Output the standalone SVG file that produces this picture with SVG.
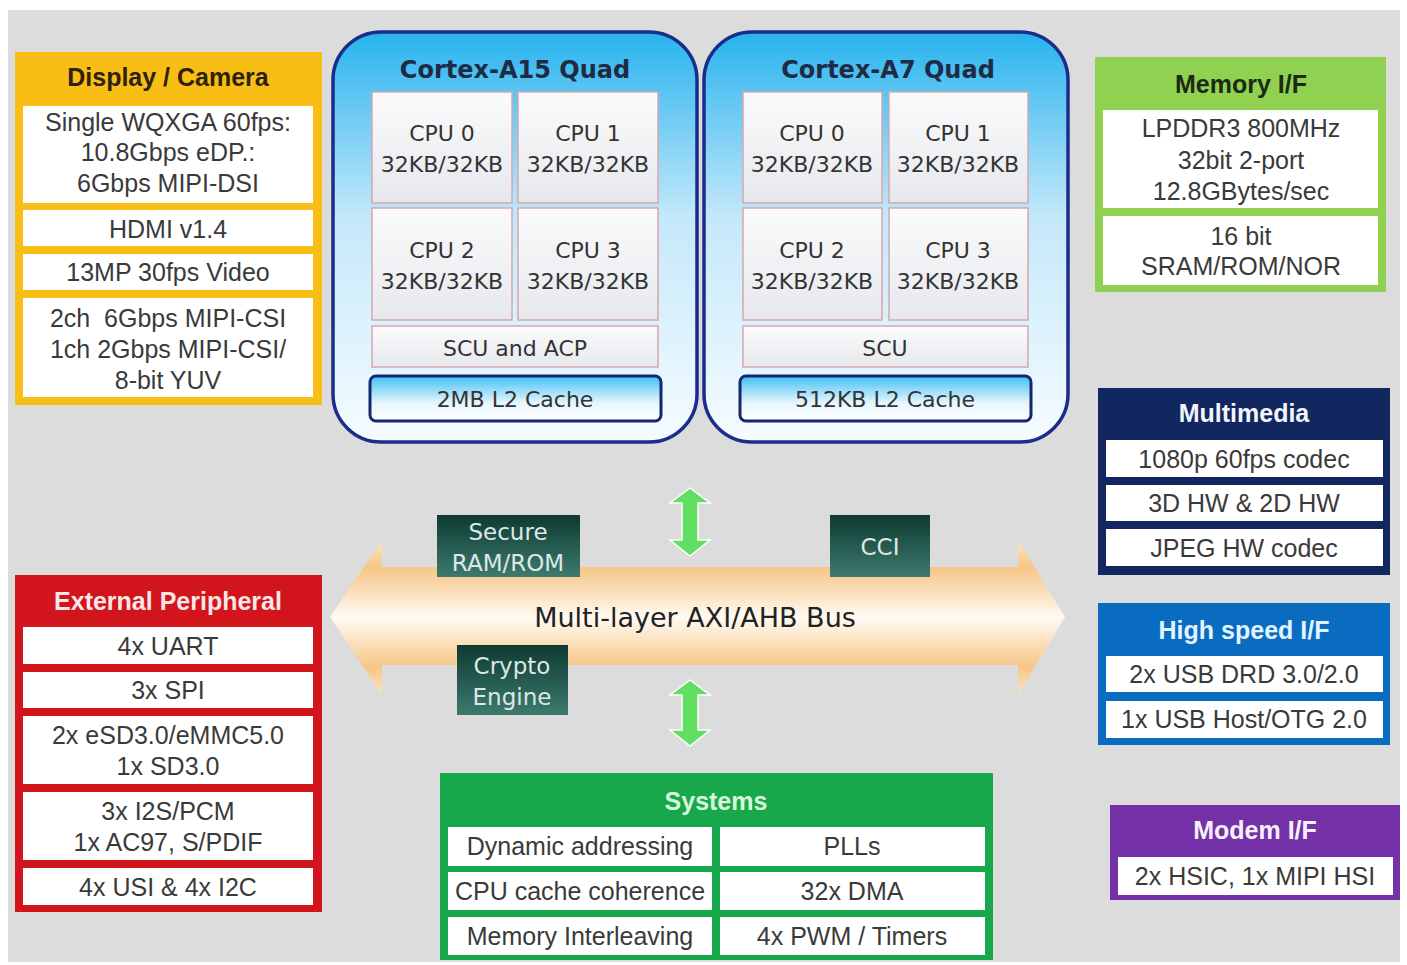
<svg xmlns="http://www.w3.org/2000/svg" width="1407" height="965" viewBox="0 0 1407 965">
<defs>
<linearGradient id="coreG" x1="0" y1="0" x2="0" y2="1">
<stop offset="0" stop-color="#27b3ee"/>
<stop offset="0.45" stop-color="#c4e8fa"/>
<stop offset="1" stop-color="#f6fcff"/>
</linearGradient>
<linearGradient id="cellG" x1="0" y1="0" x2="0" y2="1">
<stop offset="0" stop-color="#fbfbfc"/>
<stop offset="1" stop-color="#e6e8ec"/>
</linearGradient>
<linearGradient id="l2G" x1="0" y1="0" x2="0" y2="1">
<stop offset="0" stop-color="#3fbff4"/>
<stop offset="0.6" stop-color="#e6f6fd"/>
<stop offset="1" stop-color="#ffffff"/>
</linearGradient>
<linearGradient id="tealG" x1="0" y1="0" x2="0" y2="1">
<stop offset="0" stop-color="#0e3a32"/>
<stop offset="1" stop-color="#3d7a6d"/>
</linearGradient>
<linearGradient id="busG" x1="0" y1="0" x2="0" y2="1">
<stop offset="0" stop-color="#fae3c4"/>
<stop offset="0.18" stop-color="#f7c687"/>
<stop offset="0.5" stop-color="#fffaf2"/>
<stop offset="0.82" stop-color="#f7c687"/>
<stop offset="1" stop-color="#fae3c4"/>
</linearGradient>
<style>
.t{font-family:"Liberation Sans",Arial,sans-serif;font-size:25px;fill:#3a3a3a;text-anchor:middle;dominant-baseline:central}
.h{font-family:"Liberation Sans",Arial,sans-serif;font-size:25px;font-weight:bold;text-anchor:middle;dominant-baseline:central}
.c{font-family:"DejaVu Sans",Verdana,sans-serif;font-size:22px;fill:#333;text-anchor:middle;dominant-baseline:central}
.ct{font-family:"DejaVu Sans",Verdana,sans-serif;font-size:24px;font-weight:bold;fill:#1f2b44;text-anchor:middle;dominant-baseline:central}
.tt{font-family:"DejaVu Sans",Verdana,sans-serif;font-size:23px;fill:#dde8e4;text-anchor:middle;dominant-baseline:central}
.row{fill:#ffffff}
.cell{fill:url(#cellG);stroke:#d6a6ae;stroke-width:1.5}
.core{fill:url(#coreG);stroke:#1b2d8c;stroke-width:3.5}
.l2{fill:url(#l2G);stroke:#14266e;stroke-width:3}
.teal{fill:url(#tealG)}
.garrow{fill:#62df62;stroke:#ffffff;stroke-width:1.5}
</style>
</defs>

<rect x="0" y="0" width="1407" height="965" fill="#ffffff"/>
<rect x="8" y="10" width="1392" height="952" fill="#dcdcdc"/>

<g id="connectors">
<polygon points="330,617 382,540 382,567 1018,567 1018,540 1065,617 1018,695 1018,665 382,665 382,695" fill="url(#busG)"/>
<text x="695" y="617" font-family="DejaVu Sans, Verdana, sans-serif" font-size="27" fill="#222" text-anchor="middle" dominant-baseline="central">Multi-layer AXI/AHB Bus</text>
<polygon class="garrow" points="690,488 710,503 698,503 698,540 710,540 690,556 670,540 682,540 682,503 670,503"/>
<polygon class="garrow" points="690,680 710,695 698,695 698,730 710,730 690,746 670,730 682,730 682,695 670,695"/>
</g>

<g id="display-camera">
<rect x="15" y="52" width="307" height="353" fill="#f8be16"/>
<text class="h" x="168" y="77" fill="#2e2208">Display / Camera</text>
<rect class="row" x="23" y="106" width="290" height="97"/>
<text class="t" x="168" y="122">Single WQXGA 60fps:</text>
<text class="t" x="168" y="152">10.8Gbps eDP.:</text>
<text class="t" x="168" y="183">6Gbps MIPI-DSI</text>
<rect class="row" x="23" y="210" width="290" height="36"/>
<text class="t" x="168" y="229">HDMI v1.4</text>
<rect class="row" x="23" y="254" width="290" height="36"/>
<text class="t" x="168" y="272">13MP 30fps Video</text>
<rect class="row" x="23" y="298" width="290" height="99"/>
<text class="t" x="168" y="318">2ch &#160;6Gbps MIPI-CSI</text>
<text class="t" x="168" y="349">1ch 2Gbps MIPI-CSI/</text>
<text class="t" x="168" y="380">8-bit YUV</text>
</g>

<g id="external-peripheral">
<rect x="15" y="575" width="307" height="337" fill="#d2141c"/>
<text class="h" x="168" y="601" fill="#fbe6e6">External Peripheral</text>
<rect class="row" x="23" y="627" width="290" height="37"/>
<text class="t" x="168" y="646">4x UART</text>
<rect class="row" x="23" y="672" width="290" height="36"/>
<text class="t" x="168" y="690">3x SPI</text>
<rect class="row" x="23" y="716" width="290" height="68"/>
<text class="t" x="168" y="735">2x eSD3.0/eMMC5.0</text>
<text class="t" x="168" y="766">1x SD3.0</text>
<rect class="row" x="23" y="792" width="290" height="68"/>
<text class="t" x="168" y="811">3x I2S/PCM</text>
<text class="t" x="168" y="842">1x AC97, S/PDIF</text>
<rect class="row" x="23" y="868" width="290" height="37"/>
<text class="t" x="168" y="887">4x USI &amp; 4x I2C</text>
</g>

<g id="cortex-a15">
<rect class="core" x="333" y="32" width="364" height="410" rx="48"/>
<text class="ct" x="515" y="70">Cortex-A15 Quad</text>
<rect class="cell" x="372" y="92" width="140" height="111"/>
<rect class="cell" x="518" y="92" width="140" height="111"/>
<rect class="cell" x="372" y="208" width="140" height="112"/>
<rect class="cell" x="518" y="208" width="140" height="112"/>
<text class="c" x="442" y="133">CPU 0</text>
<text class="c" x="442" y="164">32KB/32KB</text>
<text class="c" x="588" y="133">CPU 1</text>
<text class="c" x="588" y="164">32KB/32KB</text>
<text class="c" x="442" y="250">CPU 2</text>
<text class="c" x="442" y="281">32KB/32KB</text>
<text class="c" x="588" y="250">CPU 3</text>
<text class="c" x="588" y="281">32KB/32KB</text>
<rect class="cell" x="372" y="326" width="286" height="41"/>
<text class="c" x="515" y="348">SCU and ACP</text>
<rect class="l2" x="370" y="376" width="291" height="45" rx="6"/>
<text class="c" x="515" y="399">2MB L2 Cache</text>
</g>

<g id="cortex-a7">
<rect class="core" x="704" y="32" width="364" height="410" rx="48"/>
<text class="ct" x="888" y="70">Cortex-A7 Quad</text>
<rect class="cell" x="743" y="92" width="139" height="111"/>
<rect class="cell" x="889" y="92" width="139" height="111"/>
<rect class="cell" x="743" y="208" width="139" height="112"/>
<rect class="cell" x="889" y="208" width="139" height="112"/>
<text class="c" x="812" y="133">CPU 0</text>
<text class="c" x="812" y="164">32KB/32KB</text>
<text class="c" x="958" y="133">CPU 1</text>
<text class="c" x="958" y="164">32KB/32KB</text>
<text class="c" x="812" y="250">CPU 2</text>
<text class="c" x="812" y="281">32KB/32KB</text>
<text class="c" x="958" y="250">CPU 3</text>
<text class="c" x="958" y="281">32KB/32KB</text>
<rect class="cell" x="743" y="326" width="285" height="41"/>
<text class="c" x="885" y="348">SCU</text>
<rect class="l2" x="740" y="376" width="291" height="45" rx="6"/>
<text class="c" x="885" y="399">512KB L2 Cache</text>
</g>

<g id="memory-if">
<rect x="1095" y="57" width="291" height="235" fill="#91d152"/>
<text class="h" x="1241" y="84" fill="#1c2a12">Memory I/F</text>
<rect class="row" x="1103" y="110" width="275" height="98"/>
<text class="t" x="1241" y="128">LPDDR3 800MHz</text>
<text class="t" x="1241" y="160">32bit 2-port</text>
<text class="t" x="1241" y="191">12.8GBytes/sec</text>
<rect class="row" x="1103" y="216" width="275" height="69"/>
<text class="t" x="1241" y="236">16 bit</text>
<text class="t" x="1241" y="266">SRAM/ROM/NOR</text>
</g>

<g id="multimedia">
<rect x="1098" y="388" width="292" height="187" fill="#12275f"/>
<text class="h" x="1244" y="413" fill="#f2f4fa">Multimedia</text>
<rect class="row" x="1106" y="440" width="277" height="37"/>
<text class="t" x="1244" y="459">1080p 60fps codec</text>
<rect class="row" x="1106" y="485" width="277" height="36"/>
<text class="t" x="1244" y="503">3D HW &amp; 2D HW</text>
<rect class="row" x="1106" y="529" width="277" height="37"/>
<text class="t" x="1244" y="548">JPEG HW codec</text>
</g>

<g id="high-speed-if">
<rect x="1098" y="603" width="292" height="142" fill="#0a6cc0"/>
<text class="h" x="1244" y="630" fill="#e2f4ff">High speed I/F</text>
<rect class="row" x="1106" y="656" width="277" height="36"/>
<text class="t" x="1244" y="674">2x USB DRD 3.0/2.0</text>
<rect class="row" x="1106" y="701" width="277" height="37"/>
<text class="t" x="1244" y="719">1x USB Host/OTG 2.0</text>
</g>

<g id="modem-if">
<rect x="1110" y="805" width="290" height="95" fill="#7430a6"/>
<text class="h" x="1255" y="830" fill="#f6f0fa">Modem I/F</text>
<rect class="row" x="1118" y="857" width="275" height="38"/>
<text class="t" x="1255" y="876">2x HSIC, 1x MIPI HSI</text>
</g>

<g id="systems">
<rect x="440" y="773" width="553" height="187" fill="#16a84a"/>
<text class="h" x="716" y="801" fill="#d9f7dd">Systems</text>
<rect class="row" x="448" y="827" width="264" height="39"/>
<rect class="row" x="720" y="827" width="265" height="39"/>
<rect class="row" x="448" y="872" width="264" height="38"/>
<rect class="row" x="720" y="872" width="265" height="38"/>
<rect class="row" x="448" y="917" width="264" height="38"/>
<rect class="row" x="720" y="917" width="265" height="38"/>
<text class="t" x="580" y="846">Dynamic addressing</text>
<text class="t" x="852" y="846">PLLs</text>
<text class="t" x="580" y="891">CPU cache coherence</text>
<text class="t" x="852" y="891">32x DMA</text>
<text class="t" x="580" y="936">Memory Interleaving</text>
<text class="t" x="852" y="936">4x PWM / Timers</text>
</g>

<g id="secure-ram-rom">
<rect class="teal" x="437" y="515" width="143" height="62"/>
<text class="tt" x="508" y="532">Secure</text>
<text class="tt" x="508" y="563">RAM/ROM</text>
</g>

<g id="cci">
<rect class="teal" x="830" y="515" width="100" height="62"/>
<text class="tt" x="880" y="547">CCI</text>
</g>

<g id="crypto-engine">
<rect class="teal" x="457" y="645" width="111" height="70"/>
<text class="tt" x="512" y="666">Crypto</text>
<text class="tt" x="512" y="697">Engine</text>
</g>
</svg>
